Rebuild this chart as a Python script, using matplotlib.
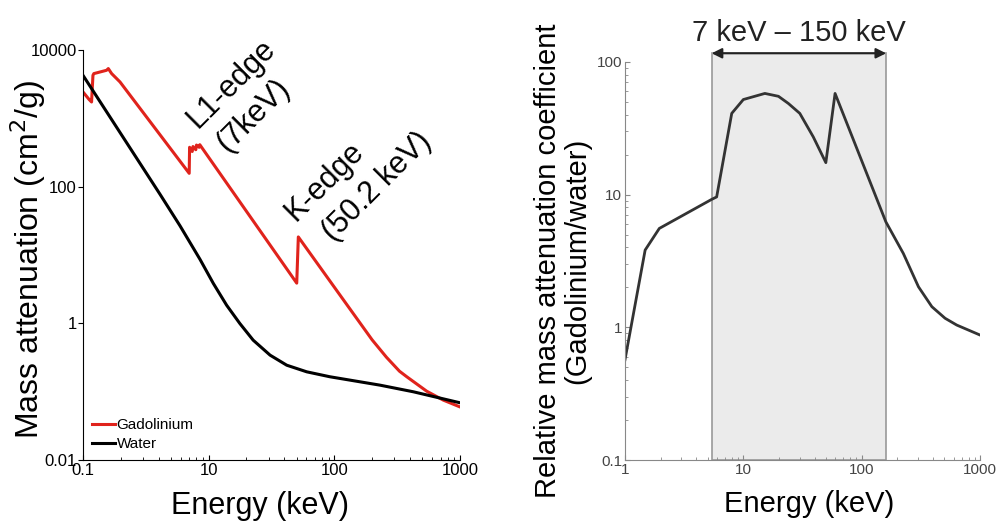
import matplotlib
matplotlib.use('Agg')
import matplotlib.pyplot as plt
import numpy as np
from matplotlib.ticker import FixedLocator, FixedFormatter, LogLocator, NullLocator, NullFormatter

plt.rcParams['font.family'] = ['Liberation Sans', 'DejaVu Sans']

# Panel A: mass attenuation
gd_energy = [1.0, 1.12, 1.17, 1.20, 1.22, 1.30, 1.54, 1.59, 1.69, 1.97, 7.0,
             7.05, 7.4, 7.5, 7.9, 8.0, 8.4, 8.5, 50.2,
             51.7, 111.0, 200.0, 260.0, 330.0, 377.0, 543.0, 736.0, 1000.0]
gd_mu = [2455, 1900, 1750, 4300, 4560, 4700, 5100, 5400, 4560, 3440, 158,
         380, 330, 390, 350, 410, 380, 415, 3.9,
         18.5, 2.6, 0.575, 0.32, 0.20, 0.166, 0.102, 0.0755, 0.060]

water_energy = [1.0, 4.1, 5.91, 8.53, 10.9, 13.9, 17.7, 22.6, 30.8, 41.8, 60.3,
                92.0, 231.0, 425.0, 1000.0]
water_mu = [4300, 78, 27, 8.7, 3.85, 1.85, 1.0, 0.57, 0.344, 0.245, 0.196,
            0.166, 0.125, 0.10, 0.069]

# Panel B: ratio Gadolinium / water
ratio_energy = [1.0, 1.48, 1.95, 5.4, 5.95, 7.98, 10.0, 15.2, 19.8, 24.0, 30.0, 39.0, 49.8,
                59.6, 160.0, 225.0, 302.0, 392.0, 507.0, 636.0, 1000.0]
ratio = [0.57, 3.82, 5.56, 9.2, 9.6, 40.9, 52.0, 57.8, 55.0, 48.6, 40.9, 27.2, 17.4,
         57.8, 6.24, 3.6, 2.02, 1.43, 1.17, 1.04, 0.875]

window = [5.4, 161.0]

fig = plt.figure(figsize=(10, 5.24), dpi=100)

# ---------- left panel ----------
ax1 = fig.add_axes([0.083, 0.122, 0.377, 0.782])
ax1.plot(gd_energy, gd_mu, color='#e0231c', lw=2.2, label='Gadolinium')
ax1.plot(water_energy, water_mu, color='black', lw=2.2, label='Water')
ax1.set_xscale('log')
ax1.set_yscale('log')
ax1.set_xlim(1, 1000)
ax1.set_ylim(0.01, 10000)
ax1.spines['top'].set_visible(False)
ax1.spines['right'].set_visible(False)
ax1.xaxis.set_major_locator(FixedLocator([1, 10, 100, 1000]))
ax1.xaxis.set_major_formatter(FixedFormatter(['0.1', '10', '100', '1000']))
ax1.xaxis.set_minor_locator(LogLocator(base=10, subs=np.arange(2, 10)))
ax1.xaxis.set_minor_formatter(NullFormatter())
ax1.yaxis.set_major_locator(FixedLocator([0.01, 1, 100, 10000]))
ax1.yaxis.set_major_formatter(FixedFormatter(['0.01', '1', '100', '10000']))
ax1.yaxis.set_minor_locator(NullLocator())
ax1.tick_params(axis='x', which='both', direction='in', labelsize=12, pad=2)
ax1.tick_params(axis='y', which='both', direction='out', labelsize=12, pad=1)
ax1.set_xlabel('Energy (keV)', fontsize=22)
ax1.set_ylabel('Mass attenuation (cm$^2$/g)', fontsize=23)
ax1.xaxis.set_label_coords(0.47, -0.075)
ax1.yaxis.set_label_coords(-0.092, 0.49)
ax1.legend(loc='lower left', frameon=False, fontsize=11, handlelength=1.5,
           handletextpad=0.1, borderaxespad=0.2, labelspacing=0.3)
# edge labels, one line each
for label, ex, ey in [('L1-edge', 15.3, 3260), ('(7keV)', 22.7, 1120),
                      ('K-edge', 84.3, 118), ('(50.2 keV)', 217, 100)]:
    ax1.text(ex, ey, label, fontsize=22, rotation=45, ha='center', va='center',
             rotation_mode='anchor')

# ---------- right panel ----------
grey = '#888888'
ax2 = fig.add_axes([0.625, 0.122, 0.355, 0.760])
ax2.axvspan(window[0], window[1], ymin=0, ymax=1.022, facecolor='#ebebeb',
            edgecolor='#999999', lw=1.2, clip_on=False, zorder=0)
ax2.plot(ratio_energy, ratio, color='#333333', lw=2)
ax2.set_xscale('log')
ax2.set_yscale('log')
ax2.set_xlim(1, 1000)
ax2.set_ylim(0.1, 100)
ax2.spines['top'].set_visible(False)
ax2.spines['right'].set_visible(False)
ax2.spines['left'].set_color(grey)
ax2.spines['bottom'].set_color(grey)
ax2.xaxis.set_major_locator(FixedLocator([1, 10, 100, 1000]))
ax2.xaxis.set_major_formatter(FixedFormatter(['1', '10', '100', '1000']))
ax2.xaxis.set_minor_locator(LogLocator(base=10, subs=np.arange(2, 10)))
ax2.xaxis.set_minor_formatter(NullFormatter())
ax2.yaxis.set_major_locator(FixedLocator([0.1, 1, 10, 100]))
ax2.yaxis.set_major_formatter(FixedFormatter(['0.1', '1', '10', '100']))
ax2.yaxis.set_minor_locator(LogLocator(base=10, subs=np.arange(2, 10)))
ax2.yaxis.set_minor_formatter(NullFormatter())
ax2.tick_params(which='both', direction='in', colors=grey, labelcolor='#444444', labelsize=11, pad=2)
ax2.tick_params(which='minor', length=2.5)
ax2.set_xlabel('Energy (keV)', fontsize=21)
ax2.set_ylabel('Relative mass attenuation coefficient\n(Gadolinium/water)', fontsize=21,
               linespacing=1.05)
ax2.xaxis.set_label_coords(0.52, -0.075)
ax2.yaxis.set_label_coords(-0.095, 0.5)
ax2.annotate('', xy=(window[0], 116), xytext=(window[1], 116),
             arrowprops=dict(arrowstyle='<|-|>', color='#222222', lw=1.5, mutation_scale=15,
                             shrinkA=0, shrinkB=0),
             annotation_clip=False)
ax2.text(np.sqrt(window[0] * window[1]), 165, '7 keV \u2013 150 keV', fontsize=21,
         ha='center', va='center', color='#222222')

fig.savefig('out.png', dpi=100)
